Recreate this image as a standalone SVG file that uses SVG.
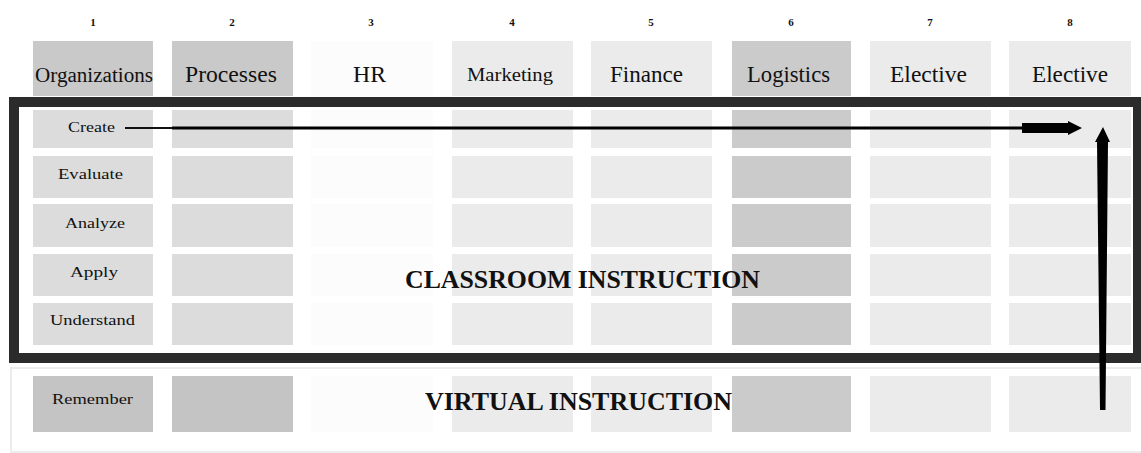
<svg xmlns="http://www.w3.org/2000/svg" width="1141" height="453" viewBox="0 0 1141 453" font-family="'Liberation Serif', 'Times New Roman', serif">
<style>
text{font-family:'Liberation Serif','Times New Roman',serif;fill:#111}
.num{font-size:11px;font-weight:bold;text-anchor:middle}
.hd{text-anchor:middle}
.lb{font-size:15px;text-anchor:middle}
.big{font-size:25px;font-weight:bold;text-anchor:middle}
.d1{fill:#c9c9c9}
.m1{fill:#dcdcdc}
.r1{fill:#c4c4c4}
.w{fill:#fcfcfc}
.l{fill:#ebebeb}
.d6{fill:#cbcbcb}
</style>
<rect x="0" y="0" width="1141" height="453" fill="#ffffff"/>
<rect id="virtual-frame" x="11" y="368" width="1131" height="84" fill="#ffffff" stroke="#ececec" stroke-width="2"/>
<g id="col1">
<text class="num" x="93" y="26">1</text>
<rect class="d1" x="33" y="41" width="120" height="55"/>
<rect class="m1" x="33" y="110" width="120" height="38"/>
<rect class="m1" x="33" y="156" width="120" height="42"/>
<rect class="m1" x="33" y="204" width="120" height="43"/>
<rect class="m1" x="33" y="254" width="120" height="42"/>
<rect class="m1" x="33" y="303" width="120" height="42"/>
<rect class="r1" x="33" y="376" width="120" height="56"/>
<text class="hd" x="94" y="82" font-size="20" textLength="118" lengthAdjust="spacingAndGlyphs">Organizations</text>
</g>
<g id="col2">
<text class="num" x="232" y="26">2</text>
<rect class="d1" x="172" y="41" width="121" height="55"/>
<rect class="m1" x="172" y="110" width="121" height="38"/>
<rect class="m1" x="172" y="156" width="121" height="42"/>
<rect class="m1" x="172" y="204" width="121" height="43"/>
<rect class="m1" x="172" y="254" width="121" height="42"/>
<rect class="m1" x="172" y="303" width="121" height="42"/>
<rect class="r1" x="172" y="376" width="121" height="56"/>
<text class="hd" x="231" y="82" font-size="24" textLength="92" lengthAdjust="spacingAndGlyphs">Processes</text>
</g>
<g id="col3">
<text class="num" x="371" y="26">3</text>
<rect class="w" x="311" y="41" width="122" height="55"/>
<rect class="w" x="311" y="110" width="122" height="38"/>
<rect class="w" x="311" y="156" width="122" height="42"/>
<rect class="w" x="311" y="204" width="122" height="43"/>
<rect class="w" x="311" y="254" width="122" height="42"/>
<rect class="w" x="311" y="303" width="122" height="42"/>
<rect class="w" x="311" y="376" width="122" height="56"/>
<text class="hd" x="369.5" y="82" font-size="24" textLength="33" lengthAdjust="spacingAndGlyphs">HR</text>
</g>
<g id="col4">
<text class="num" x="512" y="26">4</text>
<rect class="l" x="452" y="41" width="121" height="55"/>
<rect class="l" x="452" y="110" width="121" height="38"/>
<rect class="l" x="452" y="156" width="121" height="42"/>
<rect class="l" x="452" y="204" width="121" height="43"/>
<rect class="l" x="452" y="254" width="121" height="42"/>
<rect class="l" x="452" y="303" width="121" height="42"/>
<rect class="l" x="452" y="376" width="121" height="56"/>
<text class="hd" x="510" y="81" font-size="18" textLength="86" lengthAdjust="spacingAndGlyphs">Marketing</text>
</g>
<g id="col5">
<text class="num" x="651" y="26">5</text>
<rect class="l" x="591" y="41" width="121" height="55"/>
<rect class="l" x="591" y="110" width="121" height="38"/>
<rect class="l" x="591" y="156" width="121" height="42"/>
<rect class="l" x="591" y="204" width="121" height="43"/>
<rect class="l" x="591" y="254" width="121" height="42"/>
<rect class="l" x="591" y="303" width="121" height="42"/>
<rect class="l" x="591" y="376" width="121" height="56"/>
<text class="hd" x="646.5" y="82" font-size="23" textLength="73" lengthAdjust="spacingAndGlyphs">Finance</text>
</g>
<g id="col6">
<text class="num" x="791" y="26">6</text>
<rect class="d6" x="732" y="41" width="119" height="55"/>
<rect class="d6" x="732" y="110" width="119" height="38"/>
<rect class="d6" x="732" y="156" width="119" height="42"/>
<rect class="d6" x="732" y="204" width="119" height="43"/>
<rect class="d6" x="732" y="254" width="119" height="42"/>
<rect class="d6" x="732" y="303" width="119" height="42"/>
<rect class="d6" x="732" y="376" width="119" height="56"/>
<text class="hd" x="788.5" y="82" font-size="23" textLength="83" lengthAdjust="spacingAndGlyphs">Logistics</text>
</g>
<g id="col7">
<text class="num" x="930" y="26">7</text>
<rect class="l" x="870" y="41" width="121" height="55"/>
<rect class="l" x="870" y="110" width="121" height="38"/>
<rect class="l" x="870" y="156" width="121" height="42"/>
<rect class="l" x="870" y="204" width="121" height="43"/>
<rect class="l" x="870" y="254" width="121" height="42"/>
<rect class="l" x="870" y="303" width="121" height="42"/>
<rect class="l" x="870" y="376" width="121" height="56"/>
<text class="hd" x="928.5" y="82" font-size="23" textLength="77" lengthAdjust="spacingAndGlyphs">Elective</text>
</g>
<g id="col8">
<text class="num" x="1070" y="26">8</text>
<rect class="l" x="1009" y="41" width="122" height="55"/>
<rect class="l" x="1009" y="110" width="122" height="38"/>
<rect class="l" x="1009" y="156" width="122" height="42"/>
<rect class="l" x="1009" y="204" width="122" height="43"/>
<rect class="l" x="1009" y="254" width="122" height="42"/>
<rect class="l" x="1009" y="303" width="122" height="42"/>
<rect class="l" x="1009" y="376" width="122" height="56"/>
<text class="hd" x="1070" y="82" font-size="23" textLength="76" lengthAdjust="spacingAndGlyphs">Elective</text>
</g>
<g id="row-labels">
<text class="lb" x="91.5" y="132" textLength="47" lengthAdjust="spacingAndGlyphs">Create</text>
<text class="lb" x="90.5" y="179" textLength="65" lengthAdjust="spacingAndGlyphs">Evaluate</text>
<text class="lb" x="95" y="228" textLength="60" lengthAdjust="spacingAndGlyphs">Analyze</text>
<text class="lb" x="94" y="277" textLength="48" lengthAdjust="spacingAndGlyphs">Apply</text>
<text class="lb" x="92.5" y="325" textLength="85" lengthAdjust="spacingAndGlyphs">Understand</text>
<text class="lb" x="92.5" y="404" textLength="81" lengthAdjust="spacingAndGlyphs">Remember</text>
</g>
<g id="classroom-frame">
<rect x="14" y="102" width="1124" height="256" fill="none" stroke="#2b2b2b" stroke-width="10"/>
</g>
<g id="labels">
<text class="big" x="582.5" y="288" textLength="355" lengthAdjust="spacingAndGlyphs">CLASSROOM INSTRUCTION</text>
<text class="big" x="578.5" y="410" textLength="307" lengthAdjust="spacingAndGlyphs">VIRTUAL INSTRUCTION</text>
</g>
<g id="connectors">
<line x1="125" y1="128" x2="172" y2="128" stroke="#111" stroke-width="2"/>
<line x1="172" y1="128" x2="1024" y2="128" stroke="#000" stroke-width="3"/>
<path d="M1022 123 H1068 V121 L1082 128 L1068 135 V133 H1022 Z" fill="#000"/>
<path d="M1103 127 L1110 142 L1108 142 L1105.5 410 L1100 410 L1097 142 L1095 142 Z" fill="#000"/>
</g>
</svg>
